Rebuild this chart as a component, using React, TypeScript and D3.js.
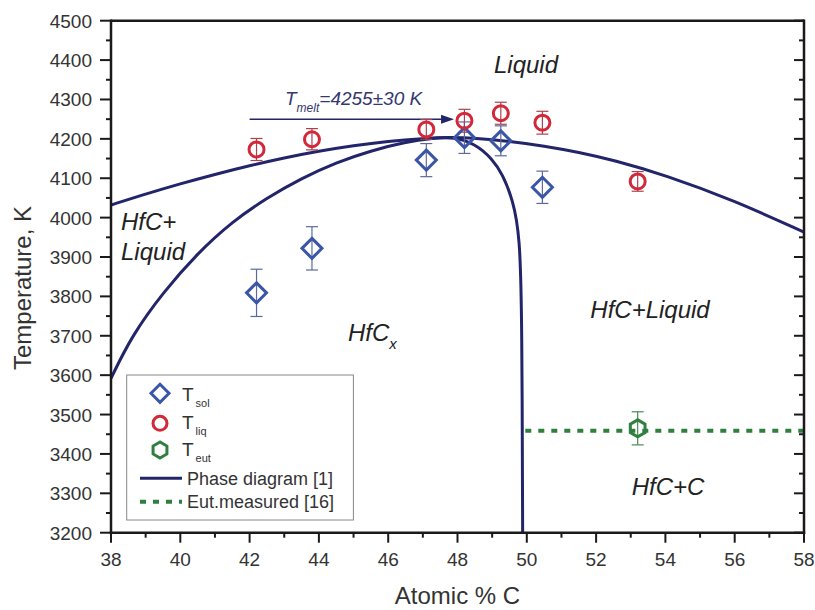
import React from "react";
import * as d3 from "d3";

// measured solidus points (diamonds)
const solX = [42.2, 43.8, 47.1, 48.2, 49.25, 50.45];
const solT = [3809, 3922, 4146, 4203, 4195, 4077];
const solErr = [60, 55, 42, 40, 38, 41];

// measured liquidus points (circles)
const liqX = [42.2, 43.8, 47.1, 48.2, 49.25, 50.45, 53.2];
const liqT = [4173, 4199, 4224, 4246, 4265, 4241, 4092];
const liqErr = [28, 27, 25, 29, 28, 29, 25];

// eutectic point (hexagon)
const eutX = [53.2];
const eutT = [3465];
const eutErr = [42];

// phase diagram [1]: liquidus
const liquidusX = [38, 39, 40, 41, 42, 43, 44, 45, 46, 47, 47.8, 48.5, 49.5, 50.5, 51.5, 52.5, 54, 56, 58];
const liquidusT = [4032, 4060, 4086, 4110, 4132, 4152, 4169, 4183, 4194, 4201, 4204, 4202, 4194, 4182, 4166, 4146, 4108, 4043, 3963];

// phase diagram [1]: HfCx boundary
const boundaryX = [38, 38.6, 39.5, 40.5, 41.5, 42.5, 43.5, 44.5, 45.5, 46.5, 47.3, 47.9, 48.5, 49.0, 49.3, 49.6, 49.8, 49.86, 49.88];
const boundaryT = [3592, 3700, 3810, 3910, 3990, 4050, 4100, 4140, 4170, 4192, 4202, 4205, 4188, 4150, 4110, 4045, 3955, 3750, 3200];

// eutectic measured [16]
const eutLineX = [49.87, 58];
const eutLineT = [3459, 3459];

// T_melt arrow
const meltArrowX = [42.0, 47.9];
const meltArrowT = 4250;

const xTicks = [38, 40, 42, 44, 46, 48, 50, 52, 54, 56, 58];
const yTicks = [3200, 3300, 3400, 3500, 3600, 3700, 3800, 3900, 4000, 4100, 4200, 4300, 4400, 4500];

const W = 815;
const H = 610;
const FONT = "'Liberation Sans', Arial, sans-serif";
const NAVY = "#23256b";
const BLUE = "#3b56a6";
const RED = "#d3283a";
const GREEN = "#2f7f3f";

const x = d3.scaleLinear().domain([38, 58]).range([111, 804]);
const y = d3.scaleLinear().domain([3200, 4500]).range([532.7, 20.7]);

const diamond = (cx: number, cy: number, r: number) =>
  `M${cx},${cy - r}L${cx + r},${cy}L${cx},${cy + r}L${cx - r},${cy}Z`;

const hexagon = (cx: number, cy: number, r: number) => {
  const pts = d3.range(6).map(k => {
    const a = Math.PI / 2 + (k * Math.PI) / 3;
    return [cx + r * Math.cos(a), cy - r * Math.sin(a)] as [number, number];
  });
  return "M" + pts.map(p => p.join(",")).join("L") + "Z";
};

const ErrorBars = ({ xs, ts, es, color }: any) => (
  <g stroke={color} strokeWidth={1.2}>
    {xs.map((v: number, i: number) => {
      const cx = x(v);
      const y1 = y(ts[i] + es[i]);
      const y2 = y(ts[i] - es[i]);
      return (
        <g key={i}>
          <line x1={cx} x2={cx} y1={y1} y2={y2} />
          <line x1={cx - 6} x2={cx + 6} y1={y1} y2={y1} />
          <line x1={cx - 6} x2={cx + 6} y1={y2} y2={y2} />
        </g>
      );
    })}
  </g>
);

export default function App() {
  const liquidusPath = d3
    .line<number>()
    .x(d => x(d))
    .y((_, i) => y(liquidusT[i]))
    .curve(d3.curveBasis)(liquidusX);
  const boundaryPath = d3
    .line<number>()
    .x(d => x(d))
    .y((_, i) => y(boundaryT[i]))
    .curve(d3.curveBasis)(boundaryX);

  const xMinor = d3.range(38, 58.01, 1);
  const yMinor = d3.range(3200, 4500.01, 50);

  const left = x(38);
  const right = x(58);
  const top = y(4500);
  const bottom = y(3200);

  const ax = x(meltArrowX[1]);
  const ay = y(meltArrowT);

  const lx = 126.7;
  const ly = 375;

  return (
    <svg width={W} height={H} style={{ position: "absolute", left: 0, top: 0, background: "#fff" }} fontFamily={FONT}>
      <defs>
        <clipPath id="plot">
          <rect x={left} y={top} width={right - left} height={bottom - top} />
        </clipPath>
      </defs>

      {/* phase diagram */}
      <g clipPath="url(#plot)" fill="none" stroke={NAVY} strokeWidth={3}>
        <path d={liquidusPath || ""} />
        <path d={boundaryPath || ""} />
      </g>

      {/* eutectic measured */}
      <line
        x1={x(eutLineX[0]) + 3}
        x2={x(eutLineX[1])}
        y1={y(eutLineT[0])}
        y2={y(eutLineT[1])}
        stroke={GREEN}
        strokeWidth={4}
        strokeDasharray="6,7"
      />

      {/* melt arrow */}
      <line x1={x(meltArrowX[0])} x2={ax - 10} y1={ay} y2={ay} stroke={NAVY} strokeWidth={1.5} />
      <path d={`M${ax},${ay}L${ax - 13},${ay - 4.5}L${ax - 13},${ay + 4.5}Z`} fill={NAVY} />
      <text x={285} y={105} fontSize={19} fontStyle="italic" fill="#34386e">
        T<tspan fontSize={12} dy={7}>melt</tspan>
        <tspan dy={-7}>=4255±30 K</tspan>
      </text>

      {/* error bars */}
      <ErrorBars xs={solX} ts={solT} es={solErr} color="#5b6a9e" />
      <ErrorBars xs={liqX} ts={liqT} es={liqErr} color="#a8424e" />
      <ErrorBars xs={eutX} ts={eutT} es={eutErr} color="#4a8a58" />

      {/* markers */}
      <g fill="none" strokeWidth={3}>
        {solX.map((v, i) => (
          <path key={"s" + i} d={diamond(x(v), y(solT[i]), 10)} stroke={BLUE} />
        ))}
        {liqX.map((v, i) => (
          <circle key={"l" + i} cx={x(v)} cy={y(liqT[i])} r={7.5} stroke={RED} />
        ))}
        {eutX.map((v, i) => (
          <path key={"e" + i} d={hexagon(x(v), y(eutT[i]), 8.5)} stroke={GREEN} />
        ))}
      </g>

      {/* region labels */}
      <g fontSize={24} fontStyle="italic" fill="#222">
        <text x={526} y={73} textAnchor="middle">Liquid</text>
        <text x={121} y={230}>HfC+</text>
        <text x={121} y={260}>Liquid</text>
        <text x={348} y={341}>
          HfC<tspan fontSize={15} dy={8}>x</tspan>
        </text>
        <text x={650} y={318} textAnchor="middle">HfC+Liquid</text>
        <text x={668} y={495} textAnchor="middle">HfC+C</text>
      </g>

      {/* frame */}
      <g stroke="#1a1a1a" strokeWidth={2.5} fill="none">
        <line x1={left} x2={right} y1={top} y2={top} />
        <line x1={right} x2={right} y1={top - 1.2} y2={bottom + 1.2} />
        <line x1={left} x2={left} y1={top - 1.2} y2={bottom + 1.2} />
        <line x1={left - 1.2} x2={right + 1.2} y1={bottom} y2={bottom} />
      </g>

      {/* ticks */}
      <g stroke="#1a1a1a" strokeWidth={2}>
        {xMinor.map(v => {
          const major = Math.round(v) % 2 === 0;
          return <line key={"xt" + v} x1={x(v)} x2={x(v)} y1={bottom} y2={bottom + (major ? 10 : 5)} />;
        })}
        {yMinor.map(v => {
          const major = Math.round(v) % 100 === 0;
          return (
            <g key={"yt" + v}>
              <line x1={left} x2={left - (major ? 11 : 5)} y1={y(v)} y2={y(v)} />
              <line x1={right} x2={right - (major ? 10 : 5)} y1={y(v)} y2={y(v)} />
            </g>
          );
        })}
      </g>

      {/* tick labels */}
      <g fontSize={19} fill="#333">
        {xTicks.map(v => (
          <text key={"xl" + v} x={x(v)} y={566} textAnchor="middle">
            {v}
          </text>
        ))}
        {yTicks.map(v => (
          <text key={"yl" + v} x={92} y={y(v) + 7} textAnchor="end">
            {v}
          </text>
        ))}
      </g>

      {/* axis titles */}
      <text x={457.5} y={604} fontSize={24} fill="#333" textAnchor="middle">
        Atomic % C
      </text>
      <text transform="translate(31,288) rotate(-90)" fontSize={24} fill="#333" textAnchor="middle">
        Temperature, K
      </text>

      {/* legend */}
      <g>
        <rect x={lx} y={ly} width={226.7} height={145} fill="#fff" stroke="#888" strokeWidth={1} />
        <path d={diamond(160, 393.3, 9)} fill="none" stroke={BLUE} strokeWidth={3} />
        <circle cx={160} cy={423.3} r={7} fill="none" stroke={RED} strokeWidth={3} />
        <path d={hexagon(160, 450, 8)} fill="none" stroke={GREEN} strokeWidth={3} />
        <line x1={140} x2={182} y1={478.3} y2={478.3} stroke={NAVY} strokeWidth={3} />
        <line x1={140} x2={182} y1={501.7} y2={501.7} stroke={GREEN} strokeWidth={4} strokeDasharray="6,7" />
        <g fontSize={19} fill="#333">
          <text x={182} y={401}>
            T<tspan fontSize={11} dx={2} dy={6}>sol</tspan>
          </text>
          <text x={182} y={429}>
            T<tspan fontSize={11} dx={2} dy={6}>liq</tspan>
          </text>
          <text x={182} y={456}>
            T<tspan fontSize={11} dx={2} dy={6}>eut</tspan>
          </text>
        </g>
        <g fontSize={18} fill="#333">
          <text x={187} y={485}>Phase diagram [1]</text>
          <text x={187} y={508}>Eut.measured [16]</text>
        </g>
      </g>
    </svg>
  );
}
